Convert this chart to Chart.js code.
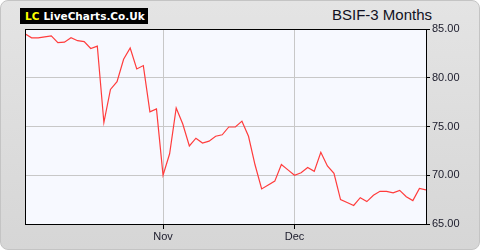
<!DOCTYPE html>
<html>
    <head>
        <title>BSIF-3 Months</title>
        <meta charset="utf8">
        <script src="https://cdn.jsdelivr.net/npm/chart.js@4/dist/chart.umd.min.js"></script>
        <style>
                body{
                        margin: 0;
                        background: #ffffff;
                        font-family: "Liberation Sans", Arial, sans-serif;
                }
                .panel{
                        position: absolute;
                        left: 0; top: 0;
                        width: 478px; height: 248px;
                        border: 1px solid #c4c4c4;
                        border-radius: 8px;
                        background: linear-gradient(#e4e4e4, #d6d6d6);
                }
                .logo{
                        position: absolute;
                        left: 20px; top: 8px;
                        width: 128px; height: 16px;
                        background: #000;
                        font-family: "DejaVu Sans", sans-serif;
                        font-weight: bold;
                        font-size: 10.5px;
                        line-height: 16px;
                        color: #fff;
                        white-space: nowrap;
                }
                .logo span{ color: #ffff00; margin-left: 5px; margin-right: 4px; }
                .titulo{
                        position: absolute;
                        right: 48px; top: 6px;
                        font-size: 15px;
                        color: #111122;
                }
                #wrap{ position: absolute; left: 0; top: 0; width: 480px; height: 250px; }
        </style>
    </head>
    <body>
        <div class="panel"></div>
        <div class="logo"><span>LC</span>LiveCharts.Co.Uk</div>
        <div class="titulo">BSIF-3 Months</div>
        <div id="wrap"><canvas id="myChart" width="480" height="250"></canvas></div>
	<script>
		// closing prices, one per trading day (early Oct to end of Dec)
		var prices = [
			84.5, 84.1, 84.1, 84.2, 84.3, 83.6, 83.65, 84.1, 83.8, 83.7,
			83.0, 83.25, 75.4, 78.8, 79.6, 81.9, 83.05, 80.9, 81.25, 76.5,
			76.8, 70.0, 72.2, 76.9, 75.25, 73.0, 73.8, 73.3, 73.5, 74.0,
			74.15, 74.95, 74.95, 75.55, 74.0, 71.05, 68.6, 69.0, 69.4, 71.1,
			70.55, 70.0, 70.25, 70.8, 70.4, 72.35, 70.95, 70.2, 67.5, 67.2,
			66.9, 67.7, 67.3, 67.95, 68.35, 68.35, 68.2, 68.45, 67.8, 67.4,
			68.65, 68.5
		];
		var monthPos = [21, 41];
		var monthLabels = ['Nov', 'Dec'];
		var yTicks = [65, 70, 75, 80, 85];

		var puntos = prices.map((p, i) => ({x: i, y: p}));

		const fondo = {
			id: 'fondo',
			beforeDraw(chart) {
				const a = chart.chartArea, c = chart.ctx;
				c.save();
				c.fillStyle = '#f7f9ff';
				c.fillRect(a.left, a.top, a.right - a.left, a.bottom - a.top);
				c.restore();
			},
			afterDraw(chart) {
				const a = chart.chartArea, c = chart.ctx;
				c.save();
				c.strokeStyle = '#000';
				c.lineWidth = 1;
				c.strokeRect(Math.round(a.left) + 0.5, Math.round(a.top) + 0.5,
					Math.round(a.right - a.left), Math.round(a.bottom - a.top));
				c.restore();
			}
		};

		const ctx = document.getElementById('myChart').getContext('2d');
		const myChart = new Chart(ctx, {
		    type: 'line',
		    data: {
			datasets: [{
			    label: 'BSIF',
			    data: puntos,
			    borderColor: '#ff3c3c',
			    borderWidth: 1.2,
			    pointRadius: 0,
			    tension: 0
			}]
		    },
		    options: {
			responsive: false,
			animation: false,
			layout: { padding: { left: 25, top: 29, right: 0, bottom: 0 } },
			plugins: { legend: { display: false }, tooltip: { enabled: false } },
			scales: {
			    x: {
				type: 'linear',
				min: 0,
				max: prices.length - 1,
				afterBuildTicks: (s) => { s.ticks = monthPos.map(v => ({value: v})); },
				afterFit: (s) => { s.height = 26; },
				ticks: {
				    autoSkip: false,
				    maxRotation: 0,
				    padding: 1,
				    color: '#1a1a2a',
				    font: { family: 'Liberation Sans', size: 11 },
				    callback: (v) => monthLabels[monthPos.indexOf(v)] || ''
				},
				grid: { color: '#c8c8c8', tickColor: '#000', tickLength: 5 },
				border: { display: false }
			    },
			    y: {
				position: 'right',
				min: 65,
				max: 85,
				afterBuildTicks: (s) => { s.ticks = yTicks.map(v => ({value: v})); },
				afterFit: (s) => { s.width = 54; },
				ticks: {
				    padding: 2,
				    color: '#1a1a2a',
				    font: { family: 'Liberation Sans', size: 11 },
				    callback: (v) => v.toFixed(2)
				},
				grid: { color: '#c8c8c8', tickColor: '#000', tickLength: 4 },
				border: { display: false }
			    }
			}
		    },
		    plugins: [fondo]
		});
	</script>
    </body>
</html>
